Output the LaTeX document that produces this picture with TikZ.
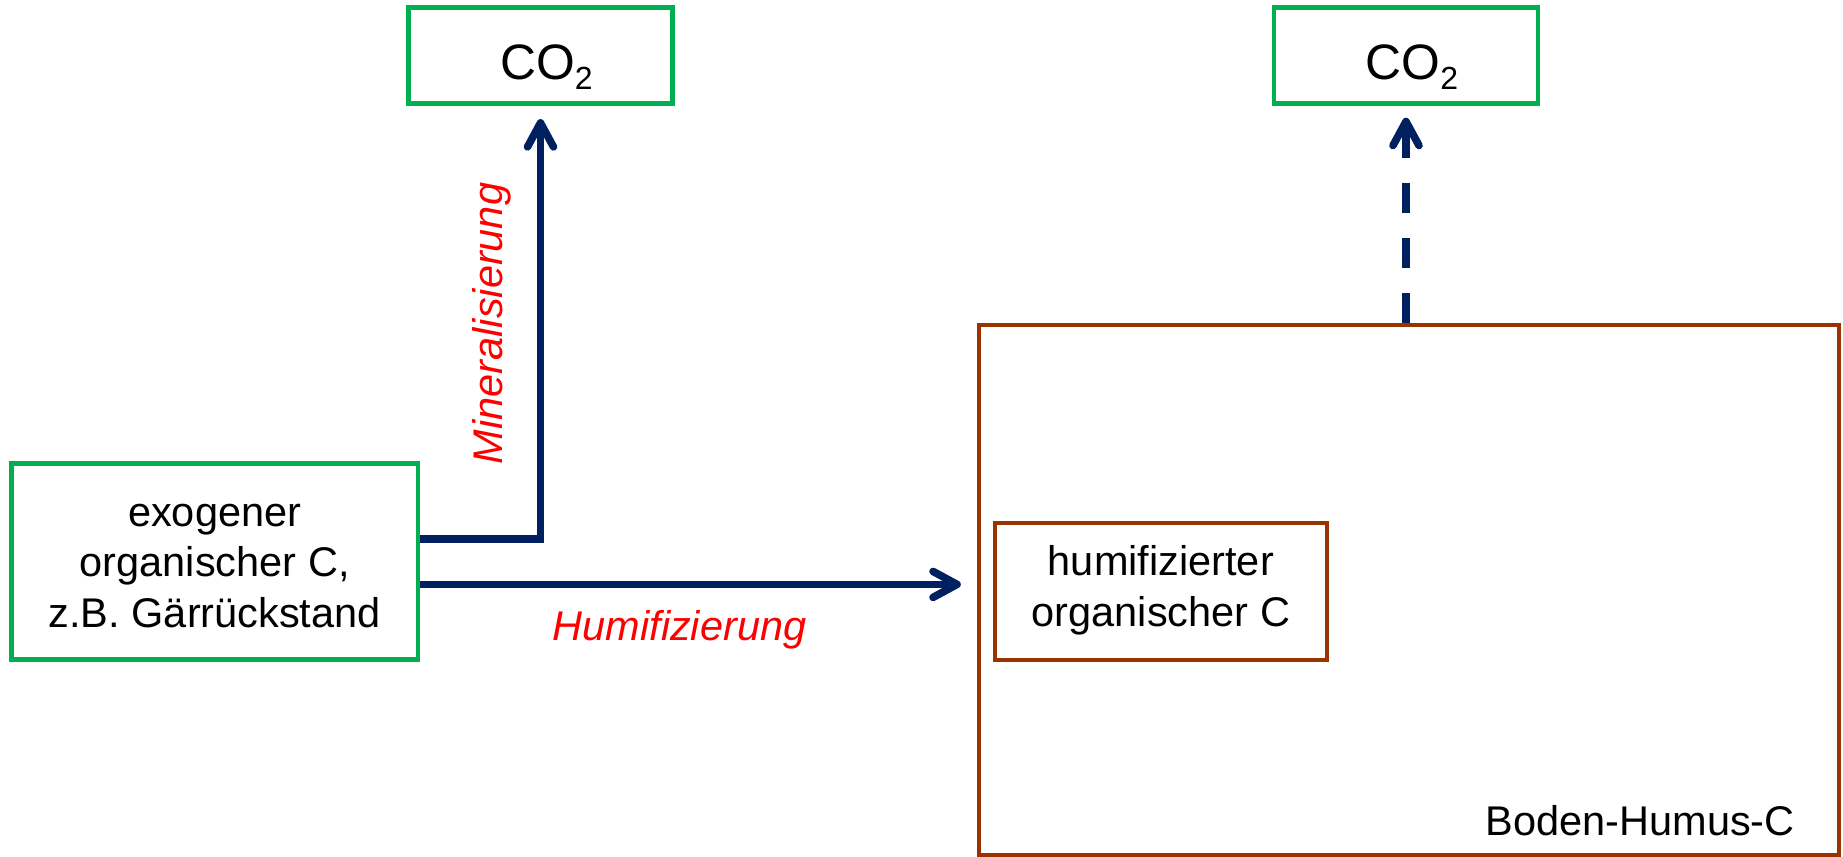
\documentclass[tikz,border=0pt]{standalone}
\usepackage{fontspec}
\setmainfont{Liberation Sans}
\usetikzlibrary{arrows.meta}
\definecolor{pptgreen}{RGB}{0,176,80}
\definecolor{pptnavy}{RGB}{0,32,96}
\definecolor{pptbrown}{RGB}{153,51,0}

\begin{document}
\begin{tikzpicture}[x=0.5pt,y=-0.5pt,
		txt/.style={inner sep=0pt,font=\fontsize{20.75}{25.25}\selectfont},
		greenbox/.style={txt,draw=pptgreen,line width=2.2pt,align=center},
		brownbox/.style={txt,draw=pptbrown,line width=2.2pt,align=center},
		co2box/.style={greenbox,minimum width=132pt,minimum height=48pt,text height=23.8pt,text depth=0pt,font=\fontsize{24.9}{30}\selectfont},
		flow/.style={draw=pptnavy,line width=3.8pt,-{Straight Barb[length=12pt,width=13pt,round]}},
		lbl/.style={txt,text=red,font=\fontsize{20.75}{25.25}\selectfont\itshape}]

		\useasboundingbox (0,0) rectangle (1843,857);

		\node[co2box] 	(co2a)	at (540.5,55.5)	{\hspace*{6pt}CO\raisebox{-5pt}{\fontsize{16}{16}\selectfont 2}};
		\node[co2box] 	(co2b)	at (1406,55.5)	{\hspace*{6pt}CO\raisebox{-5pt}{\fontsize{16}{16}\selectfont 2}};

		\node[greenbox,minimum width=203.3pt,minimum height=98pt,text height=65.4pt,text depth=0pt] (exo) at (214.7,561.6) {exogener\\organischer C,\\z.B. Gärrückstand};

		\node[brownbox,minimum width=429.85pt,minimum height=265.15pt] (boden) at (1408.85,590.15) {};
		\node[brownbox,minimum width=166pt,minimum height=68.5pt,text height=34.5pt,text depth=0pt] (humi) at (1160.9,591.5) {humifizierter\\organischer C};
		\node[txt,anchor=base east] (bodenlbl) at ([xshift=-22.85pt,yshift=11.15pt]boden.south east) {Boden-Humus-C};

		\coordinate (m0) at ([yshift=11.3pt]exo.east);
		\coordinate (h0) at ([yshift=-11.4pt]exo.east);

		\draw[flow,shorten >=6.7pt] (m0) -| (co2a.south);
		\draw[flow,shorten >=8pt] (h0) -- (h0 -| boden.west);
		\draw[flow,dash pattern=on 15pt off 12.5pt,shorten >=6pt] (co2b.south |- boden.north) -- (co2b.south);

		\node[lbl,rotate=90] 	(minlbl)	at (492,323.5)	{Mineralisierung};
		\node[lbl] 				(humlbl)	at (679.5,629.3)	{Humifizierung};
	\end{tikzpicture}
\end{document}
